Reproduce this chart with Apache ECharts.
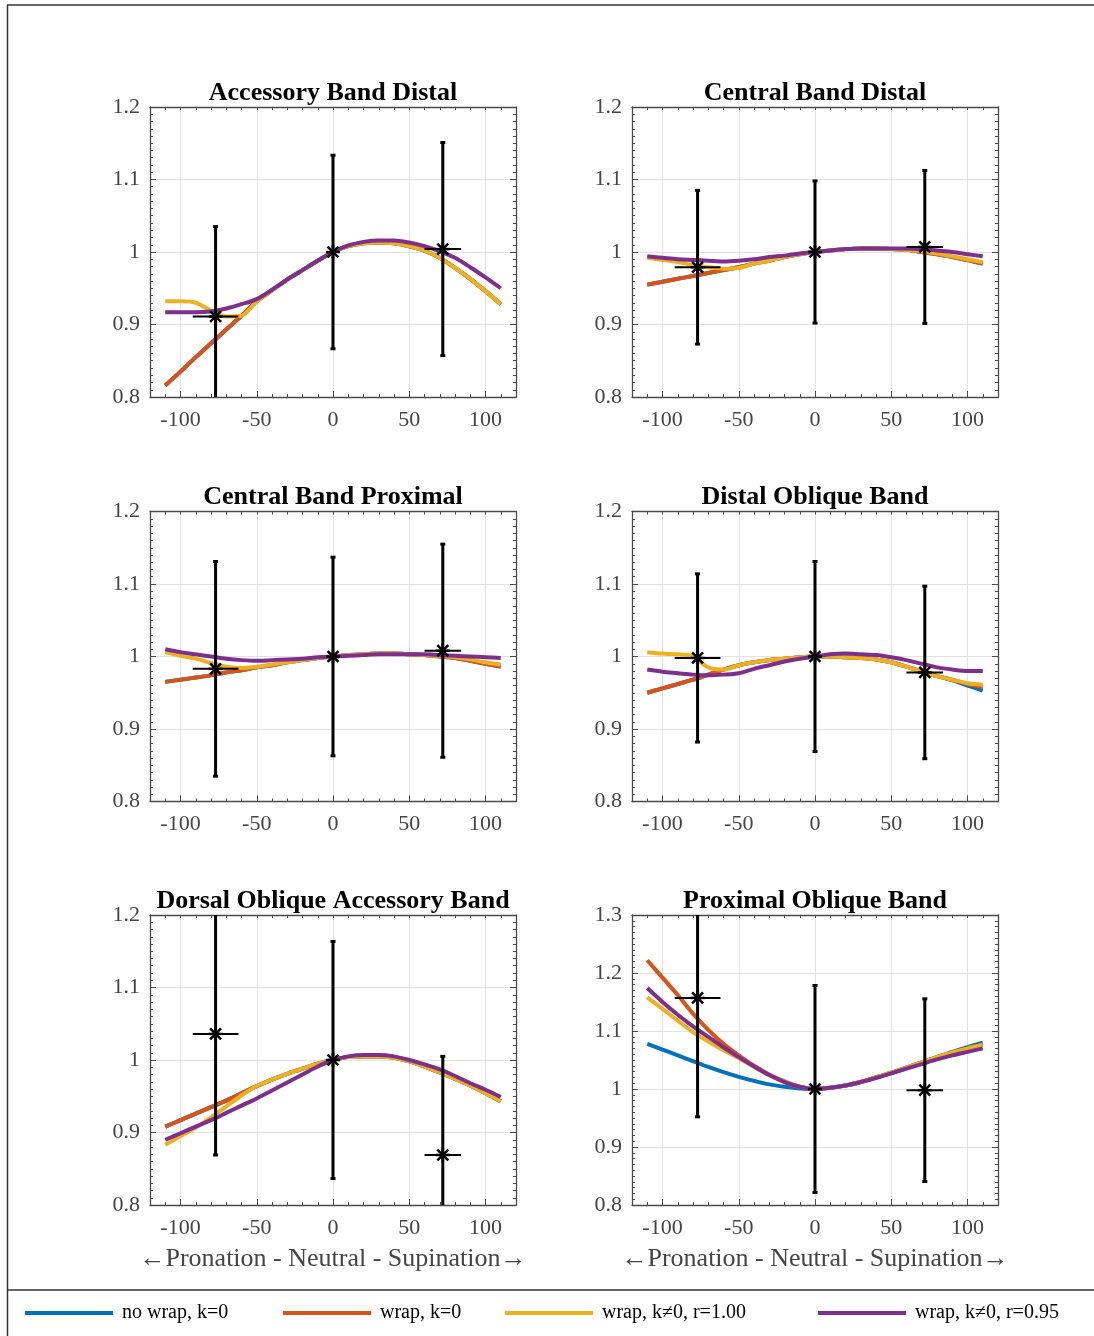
<!DOCTYPE html>
<html><head><meta charset="utf-8">
<script src="https://cdn.jsdelivr.net/npm/echarts@6/dist/echarts.min.js"></script>
<style>html,body{margin:0;padding:0;background:#fff}#c{width:1094px;height:1336px}</style>
</head><body><div id="c"></div>
<script>
// common x positions (degrees)
const xs = [-110,-100,-90,-80,-70,-60,-50,-40,-30,-20,-10,0,10,20,30,40,50,60,70,80,90,100,110];
const seriesNames = ['no wrap, k=0', 'wrap, k=0', 'wrap, k\u22600, r=1.00', 'wrap, k\u22600, r=0.95'];
const panelTitles = ['Accessory Band Distal','Central Band Distal','Central Band Proximal','Distal Oblique Band','Dorsal Oblique Accessory Band','Proximal Oblique Band'];
const yTicksMax = [1.2, 1.2, 1.2, 1.2, 1.2, 1.3];
const yTicksMin = [0.8, 0.8, 0.8, 0.8, 0.8, 0.8];
const xTickLabels = [-100, -50, 0, 50, 100];

// Panel 1: Accessory Band Distal
const abd_blue   = [0.816,0.835,0.855,0.874,0.893,0.912,0.932,0.947,0.962,0.975,0.988,1.000,1.008,1.012,1.013,1.012,1.008,1.002,0.992,0.978,0.963,0.946,0.928];
const abd_orange = [0.816,0.835,0.855,0.874,0.893,0.912,0.932,0.947,0.962,0.975,0.988,1.000,1.008,1.012,1.013,1.012,1.008,1.002,0.992,0.978,0.963,0.946,0.928];
const abd_yellow = [0.932,0.932,0.930,0.919,0.911,0.912,0.932,0.947,0.962,0.975,0.988,1.000,1.008,1.012,1.013,1.012,1.008,1.002,0.992,0.978,0.963,0.946,0.928];
const abd_purple = [0.917,0.917,0.917,0.918,0.922,0.928,0.935,0.948,0.962,0.975,0.988,1.000,1.009,1.014,1.016,1.016,1.013,1.008,1.001,0.992,0.979,0.965,0.950];
const abd_ptY = [0.911, 1.000, 1.004];
const abd_errY = [0.124, 0.1335, 0.147];

// Panel 2: Central Band Distal
const cbd_blue   = [0.955,0.959,0.963,0.967,0.971,0.975,0.979,0.984,0.988,0.993,0.997,1.000,1.002,1.004,1.005,1.005,1.004,1.003,1.000,0.997,0.993,0.989,0.984];
const cbd_orange = [0.955,0.959,0.963,0.967,0.971,0.975,0.979,0.984,0.988,0.993,0.997,1.000,1.002,1.004,1.005,1.005,1.004,1.003,1.000,0.997,0.993,0.989,0.984];
const cbd_yellow = [0.992,0.989,0.986,0.982,0.979,0.977,0.978,0.984,0.988,0.993,0.997,1.000,1.002,1.004,1.005,1.005,1.004,1.003,1.001,0.998,0.994,0.990,0.986];
const cbd_purple = [0.994,0.992,0.990,0.989,0.988,0.987,0.988,0.990,0.993,0.995,0.998,1.000,1.002,1.004,1.005,1.005,1.005,1.005,1.004,1.002,1.000,0.997,0.994];
const cbd_ptY = [0.979, 1.000, 1.007];
const cbd_errY = [0.106, 0.098, 0.1055];

// Panel 3: Central Band Proximal
const cbp_blue   = [0.965,0.968,0.971,0.974,0.978,0.981,0.985,0.988,0.992,0.995,0.998,1.000,1.002,1.003,1.004,1.004,1.003,1.002,1.000,0.998,0.994,0.990,0.986];
const cbp_orange = [0.965,0.968,0.971,0.974,0.978,0.981,0.985,0.988,0.992,0.995,0.998,1.000,1.002,1.003,1.004,1.004,1.003,1.002,1.000,0.998,0.994,0.990,0.986];
const cbp_yellow = [1.006,1.001,0.997,0.991,0.986,0.984,0.986,0.989,0.992,0.995,0.998,1.000,1.002,1.003,1.004,1.004,1.003,1.002,1.001,0.999,0.996,0.992,0.989];
const cbp_purple = [1.010,1.006,1.003,1.000,0.997,0.995,0.994,0.995,0.996,0.997,0.999,1.000,1.001,1.002,1.003,1.003,1.003,1.003,1.002,1.001,1.000,0.999,0.998];
const cbp_ptY = [0.983, 1.000, 1.008];
const cbp_errY = [0.148, 0.137, 0.147];

// Panel 4: Distal Oblique Band
const dob_blue   = [0.950,0.956,0.962,0.968,0.975,0.982,0.988,0.992,0.995,0.997,0.999,1.000,1.000,0.999,0.998,0.996,0.992,0.986,0.979,0.973,0.967,0.960,0.953];
const dob_orange = [0.950,0.956,0.962,0.968,0.975,0.982,0.988,0.992,0.995,0.997,0.999,1.000,1.000,0.999,0.998,0.996,0.992,0.986,0.979,0.973,0.968,0.962,0.958];
const dob_yellow = [1.006,1.004,1.003,1.000,0.985,0.982,0.988,0.992,0.995,0.997,0.999,1.000,1.000,0.999,0.998,0.996,0.992,0.986,0.979,0.973,0.968,0.963,0.961];
const dob_purple = [0.982,0.979,0.977,0.975,0.974,0.975,0.977,0.983,0.988,0.993,0.997,1.000,1.003,1.004,1.003,1.002,0.999,0.995,0.990,0.985,0.982,0.980,0.980];
const dob_ptY = [0.998, 1.000, 0.978];
const dob_errY = [0.116, 0.131, 0.119];

// Panel 5: Dorsal Oblique Accessory Band
const doab_blue   = [0.908,0.917,0.926,0.935,0.944,0.954,0.964,0.973,0.981,0.988,0.995,1.000,1.004,1.005,1.005,1.003,0.998,0.991,0.983,0.974,0.965,0.954,0.943];
const doab_orange = [0.908,0.917,0.926,0.935,0.944,0.954,0.964,0.973,0.981,0.988,0.995,1.000,1.004,1.005,1.005,1.003,0.998,0.991,0.983,0.974,0.965,0.954,0.943];
const doab_yellow = [0.883,0.895,0.907,0.921,0.936,0.951,0.964,0.973,0.981,0.988,0.995,1.000,1.004,1.005,1.005,1.003,0.998,0.991,0.983,0.974,0.965,0.954,0.943];
const doab_purple = [0.890,0.899,0.908,0.917,0.927,0.937,0.947,0.958,0.969,0.980,0.991,1.000,1.005,1.007,1.007,1.005,1.000,0.994,0.987,0.978,0.968,0.959,0.949];
const doab_ptY = [1.036, 1.000, 0.869];
const doab_errY = [0.167, 0.1635, 0.136];

// Panel 6: Proximal Oblique Band
const pob_blue   = [1.078,1.068,1.058,1.048,1.038,1.029,1.021,1.014,1.008,1.004,1.001,1.000,1.002,1.006,1.012,1.020,1.028,1.037,1.046,1.055,1.064,1.072,1.080];
const pob_orange = [1.222,1.192,1.162,1.130,1.102,1.078,1.058,1.040,1.025,1.013,1.004,1.000,1.002,1.006,1.012,1.020,1.028,1.037,1.046,1.055,1.063,1.070,1.077];
const pob_yellow = [1.158,1.138,1.118,1.098,1.082,1.067,1.053,1.038,1.024,1.012,1.004,1.000,1.002,1.006,1.012,1.020,1.028,1.037,1.046,1.055,1.063,1.070,1.076];
const pob_purple = [1.174,1.150,1.128,1.108,1.090,1.072,1.055,1.039,1.024,1.012,1.004,1.000,1.002,1.006,1.012,1.019,1.027,1.035,1.043,1.051,1.058,1.064,1.070];
const pob_ptY = [1.157, 1.000, 0.998];
const pob_errY = [0.205, 0.1785, 0.1575];

// measurement positions (shared)
const ptX = [-77, 0, 72];
const errX = [15, 0, 12];

const panels = [
  [abd_blue, abd_orange, abd_yellow, abd_purple, abd_ptY, abd_errY],
  [cbd_blue, cbd_orange, cbd_yellow, cbd_purple, cbd_ptY, cbd_errY],
  [cbp_blue, cbp_orange, cbp_yellow, cbp_purple, cbp_ptY, cbp_errY],
  [dob_blue, dob_orange, dob_yellow, dob_purple, dob_ptY, dob_errY],
  [doab_blue, doab_orange, doab_yellow, doab_purple, doab_ptY, doab_errY],
  [pob_blue, pob_orange, pob_yellow, pob_purple, pob_ptY, pob_errY]
];
const colors = ['#0072BD', '#D95319', '#EDB120', '#7E2F8E'];

const FONT = 'Liberation Serif';
const gridLefts = [150, 632];
const gridTops = [107, 511.5, 915];
const GW = 366, GH = 290;

const grids = [], xAxes = [], yAxes = [], series = [], graphics = [];

function errRender(params, api) {
  const x = api.value(0), y = api.value(1), xe = api.value(2), ye = api.value(3);
  const cs = params.coordSys;
  const y0 = cs.y, y1 = cs.y + cs.height;
  const clampY = v => Math.max(y0, Math.min(y1, v));
  const c = api.coord([x, y]);
  const top = api.coord([x, y + ye]);
  const bot = api.coord([x, y - ye]);
  const st = {stroke: '#000', lineWidth: 3};
  const ch = [];
  ch.push({type: 'line', shape: {x1: c[0], y1: clampY(top[1]), x2: c[0], y2: clampY(bot[1])}, style: st});
  const cap = 2.5;
  if (top[1] >= y0) ch.push({type: 'line', shape: {x1: c[0] - cap, y1: top[1], x2: c[0] + cap, y2: top[1]}, style: {stroke: '#000', lineWidth: 3}});
  if (bot[1] <= y1) ch.push({type: 'line', shape: {x1: c[0] - cap, y1: bot[1], x2: c[0] + cap, y2: bot[1]}, style: {stroke: '#000', lineWidth: 3}});
  if (xe > 0) {
    const l = api.coord([x - xe, y]), r = api.coord([x + xe, y]);
    ch.push({type: 'line', shape: {x1: l[0], y1: c[1], x2: r[0], y2: c[1]}, style: {stroke: '#000', lineWidth: 2}});
  }
  const s = 7, d = s * 0.78;
  const ss = {stroke: '#000', lineWidth: 2.5};
  ch.push({type: 'line', shape: {x1: c[0] - d, y1: c[1] - d, x2: c[0] + d, y2: c[1] + d}, style: ss});
  ch.push({type: 'line', shape: {x1: c[0] - d, y1: c[1] + d, x2: c[0] + d, y2: c[1] - d}, style: ss});
  ch.push({type: 'line', shape: {x1: c[0] - s, y1: c[1], x2: c[0] + s, y2: c[1]}, style: ss});
  ch.push({type: 'line', shape: {x1: c[0], y1: c[1] - s, x2: c[0], y2: c[1] + s}, style: ss});
  return {type: 'group', children: ch};
}

panels.forEach((p, i) => {
  const col = i % 2, row = Math.floor(i / 2);
  const left = gridLefts[col], top = gridTops[row];
  grids.push({left: left, top: top, width: GW, height: GH, containLabel: false});
  const spine = {color: '#4a4a4a', width: 1.3};
  xAxes.push({
    gridIndex: i, type: 'value', min: -120, max: 120, position: 'bottom',
    axisLine: {show: true, onZero: false, lineStyle: spine},
    axisTick: {show: true, inside: true, length: 6, lineStyle: {color: '#4a4a4a', width: 1}},
    axisLabel: {show: true, margin: 12, fontSize: 22, fontFamily: FONT, color: '#454545',
      showMinLabel: false, showMaxLabel: false,
      formatter: v => (xTickLabels.indexOf(v) >= 0 ? String(v) : '')},
    splitLine: {show: true, lineStyle: {color: '#e2e2e2', width: 1}}
  });
  xAxes.push({
    gridIndex: i, type: 'value', min: -120, max: 120, interval: 10, position: 'top',
    axisLine: {show: true, onZero: false, lineStyle: spine},
    axisTick: {show: true, inside: true, length: 3, lineStyle: {color: '#4a4a4a', width: 1}},
    axisLabel: {show: false}, splitLine: {show: false}
  });
  xAxes.push({
    gridIndex: i, type: 'value', min: -120, max: 120, interval: 10, position: 'bottom',
    axisLine: {show: false, onZero: false},
    axisTick: {show: true, inside: true, length: 3, lineStyle: {color: '#4a4a4a', width: 1}},
    axisLabel: {show: false}, splitLine: {show: false}
  });
  const yBase = {
    gridIndex: i, type: 'value', min: yTicksMin[i], max: yTicksMax[i], interval: 0.1,
    axisLine: {show: true, onZero: false, lineStyle: spine},
    axisTick: {show: true, inside: true, length: 6, lineStyle: {color: '#4a4a4a', width: 1}},
    minorTick: {show: true, splitNumber: 10, length: 3, lineStyle: {color: '#4a4a4a', width: 1}}
  };
  yAxes.push(Object.assign({}, yBase, {
    position: 'left',
    axisLabel: {show: true, margin: 10, fontSize: 22, fontFamily: FONT, color: '#454545',
      formatter: v => String(+v.toFixed(2))},
    splitLine: {show: true, lineStyle: {color: '#e2e2e2', width: 1}}
  }));
  yAxes.push(Object.assign({}, yBase, {
    position: 'right', axisLabel: {show: false}, splitLine: {show: false}
  }));
  for (let k = 0; k < 4; k++) {
    series.push({
      name: seriesNames[k], type: 'line', xAxisIndex: 3 * i, yAxisIndex: 2 * i,
      data: xs.map((x, j) => [x, p[k][j]]), smooth: 0.3, showSymbol: false, symbol: 'none',
      lineStyle: {color: colors[k], width: 4}, itemStyle: {color: colors[k]},
      clip: true, animation: false, z: 2 + k
    });
  }
  const ptY = p[4], errY = p[5];
  series.push({
    type: 'custom', xAxisIndex: 3 * i, yAxisIndex: 2 * i, renderItem: errRender,
    data: ptX.map((x, j) => [x, ptY[j], errX[j], errY[j]]),
    encode: {x: 0, y: 1}, z: 10, animation: false, silent: true
  });
  graphics.push({type: 'text', x: left + GW / 2, y: top - 14,
    style: {text: panelTitles[i], font: 'bold 26px "Liberation Serif"', fill: '#000', textAlign: 'center', textVerticalAlign: 'middle'}});
  if (row === 2) {
    graphics.push({type: 'text', x: left + GW / 2, y: top + GH + 54,
      style: {text: '\u2190Pronation - Neutral - Supination\u2192', font: '26px "Liberation Serif"', fill: '#454545', textAlign: 'center', textVerticalAlign: 'middle'}});
  }
});

// outer frame
const frame = {stroke: '#333', lineWidth: 1.5};
graphics.push({type: 'line', shape: {x1: 7, y1: 5, x2: 1094, y2: 5}, style: frame});
graphics.push({type: 'line', shape: {x1: 7.5, y1: 5, x2: 7.5, y2: 1336}, style: frame});
graphics.push({type: 'line', shape: {x1: 7, y1: 1290, x2: 1094, y2: 1290}, style: frame});

const legendLefts = [25, 283, 505, 818];
const legends = seriesNames.map((n, k) => ({
  data: [n], left: legendLefts[k], top: 1303, padding: 0, orient: 'horizontal',
  icon: 'rect', itemWidth: 88, itemHeight: 4, selectedMode: false,
  textStyle: {fontFamily: FONT, fontSize: 20, color: '#000', padding: [0, 0, 0, 4]}
}));

const chart = echarts.init(document.getElementById('c'), null, {renderer: 'canvas'});
chart.setOption({
  animation: false,
  backgroundColor: '#fff',
  grid: grids, xAxis: xAxes, yAxis: yAxes, series: series,
  legend: legends, graphic: graphics
});
</script></body></html>
